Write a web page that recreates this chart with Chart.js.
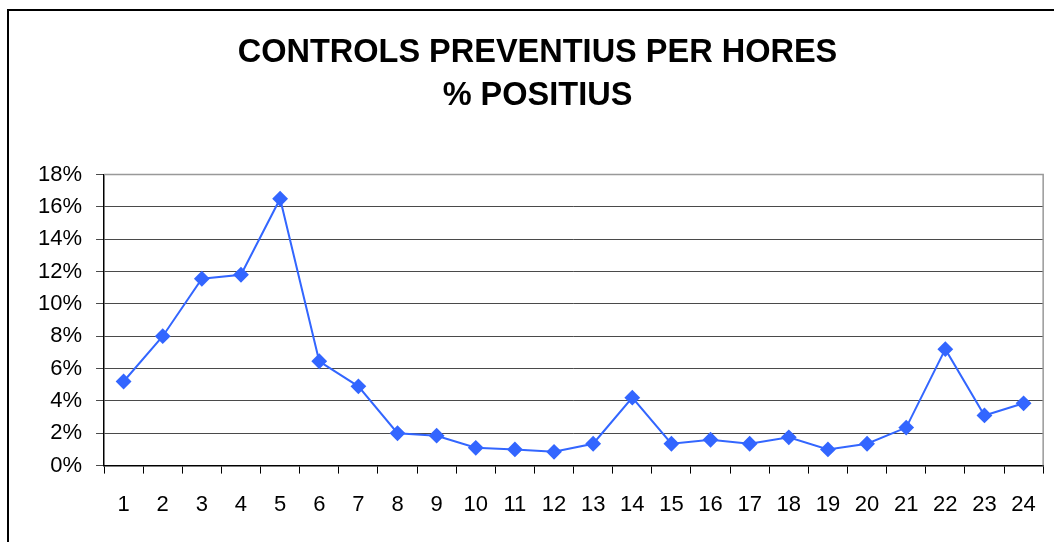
<!DOCTYPE html>
<html>
<head>
<meta charset="utf-8">
<script src="https://cdn.jsdelivr.net/npm/chart.js@4"></script>
<style>
  html, body { margin: 0; padding: 0; background: #fff; }
  #frame {
    position: absolute; left: 7px; top: 9px; width: 1100px; height: 600px;
    border: 2px solid #000; box-sizing: border-box;
  }
  #wrap { position: absolute; left: 0; top: 0; width: 1054px; height: 542px; }
</style>
</head>
<body>
<div id="frame"></div>
<div id="wrap"><canvas id="chart"></canvas></div>
<script>
// hours of the day
const hours = ['1','2','3','4','5','6','7','8','9','10','11','12',
               '13','14','15','16','17','18','19','20','21','22','23','24'];

// share of positive preventive controls per hour (fraction)
const positiveShare = [0.052, 0.080, 0.1155, 0.118, 0.165, 0.0645, 0.049, 0.020,
                       0.0185, 0.011, 0.010, 0.0085, 0.0135, 0.042, 0.0135, 0.016,
                       0.0135, 0.0175, 0.010, 0.0135, 0.0235, 0.072, 0.031, 0.0385];

const titleLines = ['CONTROLS PREVENTIUS PER HORES', '% POSITIUS'];

// gray frame on top and right of the plot area
const plotFrame = {
    id: 'plotFrame',
    afterDraw(chart) {
        const { ctx, chartArea: a } = chart;
        ctx.save();
        ctx.strokeStyle = '#999';
        ctx.lineWidth = 1.5;
        ctx.beginPath();
        ctx.moveTo(a.left, a.top);
        ctx.lineTo(a.right, a.top);
        ctx.lineTo(a.right, a.bottom);
        ctx.stroke();
        ctx.restore();
    }
};

const ctx = document.getElementById('chart').getContext('2d');
new Chart(ctx, {
    type: 'line',
    data: {
        labels: hours,
        datasets: [{
            data: positiveShare,
            borderColor: '#3366ff',
            backgroundColor: '#3366ff',
            borderWidth: 2,
            pointStyle: 'rectRot',
            pointRadius: 6.5,
            pointHoverRadius: 6.5,
            tension: 0
        }]
    },
    options: {
        responsive: true,
        maintainAspectRatio: false,
        animation: false,
        layout: { padding: { left: 24, right: 3, top: 31, bottom: 6 } },
        plugins: {
            legend: { display: false },
            tooltip: { enabled: false },
            title: {
                display: true,
                text: titleLines,
                color: '#000',
                font: { family: 'Liberation Sans, Arial, sans-serif', size: 32.5, weight: 'bold', lineHeight: 1.33 },
                padding: { top: 0, bottom: 57 }
            }
        },
        scales: {
            x: {
                offset: true,
                grid: { offset: true, drawOnChartArea: false, color: '#000', tickLength: 8 },
                border: { color: '#000', width: 1.5 },
                ticks: {
                    color: '#000', padding: 18,
                    font: { family: 'Liberation Sans, Arial, sans-serif', size: 22 }
                }
            },
            y: {
                min: 0,
                max: 0.18,
                grid: { color: '#4a4a4a', tickLength: 8, lineWidth: 1 },
                border: { color: '#000', width: 1.5 },
                ticks: {
                    stepSize: 0.02,
                    color: '#000', padding: 14,
                    font: { family: 'Liberation Sans, Arial, sans-serif', size: 22 },
                    callback: v => Math.round(v * 100) + '%'
                }
            }
        }
    },
    plugins: [plotFrame]
});
</script>
</body>
</html>
